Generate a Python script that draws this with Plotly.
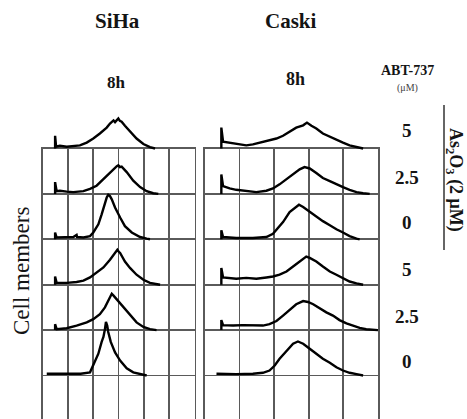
import plotly.graph_objects as go

# ---------------- data (x in grid-column units, counts in row-height units) -------------
cell_lines = ["SiHa", "Caski"]
time_labels = ["8h", "8h"]
abt_doses = ["5", "2.5", "0", "5", "2.5", "0"]

siha_x = [
    [0.49, 0.49, 0.53, 0.68, 0.95, 1.21, 1.47, 1.74, 2.00, 2.26, 2.53, 2.66, 2.80, 2.86, 2.93, 2.99, 3.05, 3.12, 3.25, 3.45, 3.71, 3.98, 4.24, 4.44],
    [0.49, 0.49, 0.55, 0.68, 0.95, 1.21, 1.61, 1.87, 2.13, 2.40, 2.66, 2.86, 2.93, 2.99, 3.05, 3.12, 3.32, 3.58, 3.85, 4.11, 4.37, 4.57],
    [0.49, 0.49, 0.55, 0.95, 1.21, 1.34, 1.36, 1.61, 1.87, 2.00, 2.20, 2.33, 2.46, 2.53, 2.59, 2.66, 2.73, 2.86, 3.06, 3.25, 3.52, 3.85, 4.11, 4.24],
    [0.49, 0.49, 0.55, 0.95, 1.34, 1.61, 1.87, 2.13, 2.40, 2.66, 2.86, 2.95, 3.00, 3.06, 3.25, 3.45, 3.71, 3.98, 4.24, 4.44, 4.64],
    [0.49, 0.49, 0.55, 0.95, 1.34, 1.74, 2.00, 2.26, 2.46, 2.59, 2.73, 2.80, 2.86, 2.99, 3.19, 3.45, 3.71, 3.98, 4.24, 4.50],
    [0.16, 0.50, 1.00, 1.50, 1.87, 2.00, 2.20, 2.33, 2.40, 2.46, 2.50, 2.55, 2.59, 2.69, 2.86, 3.06, 3.32, 3.58, 3.85, 4.11],
]
siha_y = [
    [0.00, 0.28, 0.04, 0.06, 0.04, 0.05, 0.07, 0.13, 0.22, 0.33, 0.46, 0.55, 0.62, 0.58, 0.63, 0.66, 0.61, 0.59, 0.50, 0.37, 0.22, 0.10, 0.03, 0.00],
    [0.00, 0.26, 0.06, 0.07, 0.05, 0.04, 0.06, 0.11, 0.18, 0.33, 0.48, 0.57, 0.61, 0.63, 0.59, 0.60, 0.48, 0.29, 0.15, 0.06, 0.015, 0.00],
    [0.00, 0.15, 0.04, 0.04, 0.05, 0.095, 0.05, 0.04, 0.07, 0.15, 0.33, 0.55, 0.81, 0.92, 0.98, 0.95, 0.88, 0.70, 0.48, 0.29, 0.15, 0.05, 0.015, 0.00],
    [0.00, 0.18, 0.04, 0.04, 0.06, 0.09, 0.16, 0.26, 0.38, 0.55, 0.70, 0.77, 0.73, 0.70, 0.51, 0.37, 0.22, 0.11, 0.04, 0.015, 0.00],
    [0.00, 0.13, 0.02, 0.04, 0.10, 0.17, 0.24, 0.35, 0.50, 0.65, 0.80, 0.76, 0.72, 0.65, 0.50, 0.32, 0.17, 0.07, 0.02, 0.00],
    [0.04, 0.04, 0.03, 0.04, 0.07, 0.22, 0.48, 0.74, 0.85, 1.02, 1.18, 1.10, 0.96, 0.74, 0.51, 0.33, 0.16, 0.07, 0.03, 0.00],
]

caski_x = [
    [0.48, 0.48, 0.53, 0.72, 0.91, 1.20, 1.39, 1.59, 1.87, 2.07, 2.26, 2.45, 2.64, 2.84, 2.95, 3.08, 3.22, 3.41, 3.61, 3.80, 3.99, 4.18, 4.38, 4.57],
    [0.48, 0.48, 0.53, 0.72, 0.91, 1.20, 1.49, 1.78, 1.97, 2.16, 2.36, 2.55, 2.74, 2.88, 3.03, 3.22, 3.41, 3.61, 3.80, 3.99, 4.18, 4.38, 4.57, 4.76],
    [0.48, 0.48, 0.53, 0.91, 1.39, 1.78, 1.97, 2.11, 2.26, 2.45, 2.64, 2.72, 2.84, 3.03, 3.22, 3.41, 3.61, 3.80, 3.99, 4.18, 4.38, 4.47],
    [0.48, 0.48, 0.53, 0.72, 0.91, 1.20, 1.49, 1.78, 1.97, 2.16, 2.36, 2.55, 2.74, 2.93, 3.03, 3.22, 3.41, 3.61, 3.80, 3.99, 4.18, 4.38, 4.57],
    [0.48, 0.48, 0.53, 0.82, 1.10, 1.39, 1.68, 1.87, 2.07, 2.26, 2.45, 2.64, 2.84, 2.98, 3.13, 3.32, 3.51, 3.70, 3.89, 4.09, 4.28, 4.47, 4.66, 4.86, 5.00],
    [0.34, 0.91, 1.39, 1.68, 1.87, 2.02, 2.16, 2.36, 2.55, 2.69, 2.84, 3.03, 3.22, 3.41, 3.61, 3.80, 3.99, 4.18, 4.38, 4.57],
]
caski_y = [
    [0.00, 0.46, 0.15, 0.13, 0.11, 0.07, 0.09, 0.13, 0.18, 0.22, 0.28, 0.37, 0.46, 0.51, 0.57, 0.50, 0.44, 0.33, 0.26, 0.18, 0.13, 0.07, 0.03, 0.00],
    [0.00, 0.43, 0.17, 0.12, 0.09, 0.06, 0.04, 0.07, 0.12, 0.21, 0.32, 0.43, 0.54, 0.59, 0.56, 0.46, 0.35, 0.28, 0.21, 0.15, 0.09, 0.04, 0.015, 0.00],
    [0.00, 0.20, 0.05, 0.03, 0.03, 0.05, 0.12, 0.24, 0.38, 0.60, 0.71, 0.76, 0.71, 0.60, 0.49, 0.40, 0.31, 0.22, 0.15, 0.07, 0.015, 0.00],
    [0.00, 0.37, 0.16, 0.15, 0.13, 0.15, 0.13, 0.16, 0.18, 0.22, 0.29, 0.40, 0.51, 0.62, 0.59, 0.51, 0.40, 0.29, 0.22, 0.15, 0.07, 0.03, 0.00],
    [0.00, 0.22, 0.11, 0.10, 0.11, 0.10, 0.10, 0.13, 0.20, 0.32, 0.44, 0.57, 0.64, 0.62, 0.57, 0.48, 0.39, 0.32, 0.22, 0.15, 0.10, 0.05, 0.02, 0.01, 0.00],
    [0.04, 0.03, 0.04, 0.06, 0.11, 0.22, 0.37, 0.55, 0.70, 0.75, 0.70, 0.59, 0.48, 0.37, 0.28, 0.18, 0.11, 0.06, 0.03, 0.00],
]

# ---------------- figure ----------------
W, H = 467, 419
fig = go.Figure()

LINE = dict(color="black", width=2.4)
GRID = "#5a5a5a"

panels = [
    (siha_x, siha_y, "x2", "y2", "x", "y"),
    (caski_x, caski_y, "x4", "y4", "x3", "y3"),
]
for xs, ys, xt, yt, xg, yg in panels:
    # first histogram sits on top of the grid
    fig.add_trace(go.Scatter(x=xs[0], y=ys[0], mode="lines", line=LINE,
                             xaxis=xt, yaxis=yt, hoverinfo="skip", showlegend=False))
    for i in range(1, 6):
        base = 6 - i
        fig.add_trace(go.Scatter(x=xs[i], y=[base + v for v in ys[i]], mode="lines",
                                 line=LINE, xaxis=xg, yaxis=yg,
                                 hoverinfo="skip", showlegend=False))

def px2py(p):
    return 1 - p / H

row_px = 45.4
grid_top = 148.5
top_bottom_px, top_top_px = 151.0, 100.0

siha_dom = [42.7 / W, 194.5 / W]
caski_dom = [204.7 / W, 378.0 / W]

grid_y = dict(domain=[0, px2py(grid_top)], range=[6 - (H - grid_top) / row_px, 6],
              showgrid=True, gridcolor=GRID, gridwidth=1.7, tick0=0, dtick=1,
              showticklabels=False, ticks="", zeroline=False,
              showline=True, linecolor=GRID, linewidth=1.7, mirror=True)
top_y = dict(domain=[px2py(top_bottom_px), px2py(top_top_px)],
             range=[-(top_bottom_px - grid_top) / row_px, (grid_top - top_top_px) / row_px],
             visible=False)

def grid_x(dom, n, anchor):
    return dict(domain=dom, range=[0, n], anchor=anchor, showgrid=True, gridcolor=GRID,
                gridwidth=1.7, tick0=0, dtick=1, showticklabels=False, ticks="",
                zeroline=False, showline=True, linecolor=GRID, linewidth=1.7, mirror=True)

fig.update_layout(
    width=W, height=H, margin=dict(l=0, r=0, t=0, b=0),
    paper_bgcolor="white", plot_bgcolor="rgba(0,0,0,0)", hovermode=False,
    xaxis=grid_x(siha_dom, 6, "y"),
    yaxis=dict(grid_y, anchor="x"),
    xaxis2=dict(domain=siha_dom, range=[0, 6], anchor="y2", visible=False),
    yaxis2=dict(top_y, anchor="x2"),
    xaxis3=grid_x(caski_dom, 5, "y3"),
    yaxis3=dict(grid_y, anchor="x3"),
    xaxis4=dict(domain=caski_dom, range=[0, 5], anchor="y4", visible=False),
    yaxis4=dict(top_y, anchor="x4"),
)

SERIF = "Liberation Serif"
TXT = "#141414"
ann = []
def add_text(text, xpx, ypx, size, bold=True, angle=0, color=TXT):
    ann.append(dict(text=(f"<b>{text}</b>" if bold else text), x=xpx / W, y=px2py(ypx),
                    xref="paper", yref="paper", showarrow=False, textangle=angle,
                    xanchor="center", yanchor="middle",
                    font=dict(family=SERIF, size=size, color=color)))

add_text(cell_lines[0], 117, 21, 21)
add_text(cell_lines[1], 291, 21, 21)
add_text(time_labels[0], 116, 82, 17)
add_text(time_labels[1], 295, 79, 18)
add_text("ABT-737", 407, 71, 14)
add_text("(μM)", 407, 88, 10, bold=False, color="#444")
dose_y = [131, 178, 222, 269, 316, 361]
for d, yy in zip(abt_doses, dose_y):
    add_text(d, 407, yy, 19)
add_text("As<sub>2</sub>O<sub>3</sub> (2 μM)", 455, 180, 18, angle=90)
add_text("Cell members", 21, 271, 23, bold=False, angle=-90)
fig.update_layout(annotations=ann)

fig.add_shape(type="line", xref="paper", yref="paper",
              x0=444 / W, x1=444 / W, y0=px2py(105), y1=px2py(250),
              line=dict(color="#333", width=1.5))

fig.write_html("out.html",
               config={"displayModeBar": False, "staticPlot": True},
               post_script="document.body.style.margin='0';document.body.style.overflow='hidden';")
